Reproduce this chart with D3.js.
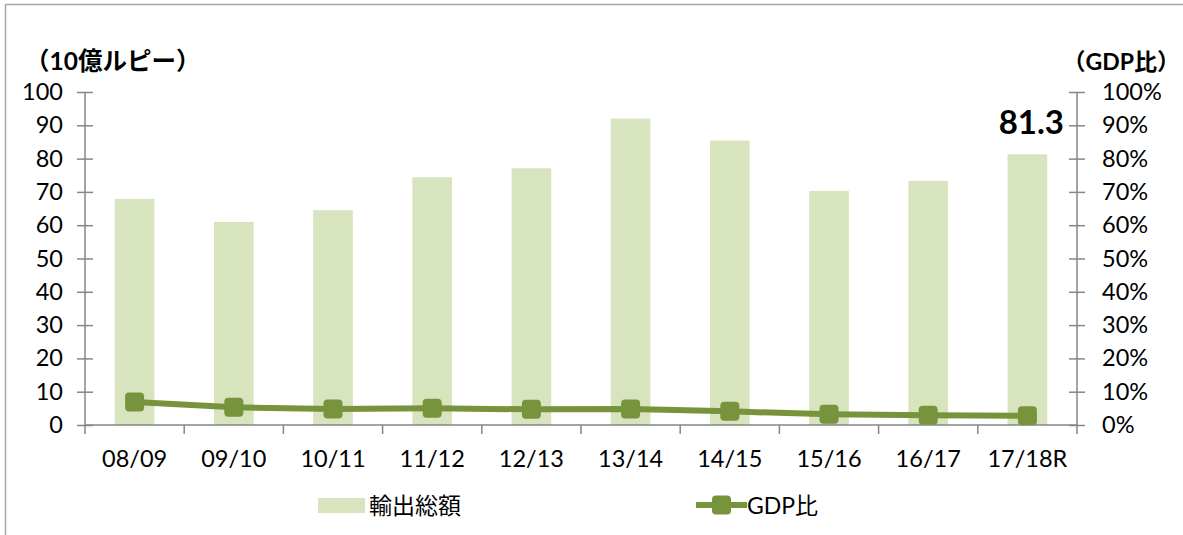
<!DOCTYPE html>
<html>
<head>
<meta charset="utf-8">
<script src="https://cdn.jsdelivr.net/npm/d3@7"></script>
<style>
  body { margin: 0; background: #fff; }
  text { font-family: Lato, "Noto Sans CJK JP", sans-serif; fill: #000; }
</style>
</head>
<body>
<div id="chart"></div>
<script>
const years = ["08/09", "09/10", "10/11", "11/12", "12/13", "13/14", "14/15", "15/16", "16/17", "17/18R"];
const exports = [67.9, 61.0, 64.5, 74.4, 77.1, 92.0, 85.4, 70.3, 73.3, 81.3];
const gdpShare = [6.9, 5.3, 4.8, 5.0, 4.7, 4.8, 4.1, 3.2, 2.9, 2.8];
const leftTicks = [0, 10, 20, 30, 40, 50, 60, 70, 80, 90, 100];
const rightTicks = [0, 10, 20, 30, 40, 50, 60, 70, 80, 90, 100];

const width = 1183, height = 535;
const margin = { top: 92, right: 106, bottom: 110, left: 85 };
const barColor = "#d7e4bd", lineColor = "#77933c", axisColor = "#868686";

const svg = d3.select("#chart")
  .append("svg")
  .attr("width", width)
  .attr("height", height);

// outer frame
svg.append("rect")
  .attr("x", 5.5).attr("y", 4.5)
  .attr("width", width + 20).attr("height", height + 20)
  .attr("fill", "none")
  .attr("stroke", "#a6a6a6")
  .attr("stroke-width", 1.5);

const x = d3.scaleBand()
  .domain(years)
  .range([margin.left, width - margin.right])
  .paddingInner(0.6)
  .paddingOuter(0.3);

const xb = d3.scaleLinear()
  .domain([0, years.length])
  .range([margin.left, width - margin.right]);

const y = d3.scaleLinear()
  .domain([0, 100])
  .range([height - margin.bottom, margin.top]);

const y2 = d3.scaleLinear()
  .domain([0, 100])
  .range([height - margin.bottom, margin.top]);

// bars
svg.append("g")
  .selectAll("rect")
  .data(years)
  .join("rect")
  .attr("x", d => x(d))
  .attr("y", (d, i) => y(exports[i]))
  .attr("width", x.bandwidth())
  .attr("height", (d, i) => y(0) - y(exports[i]))
  .attr("fill", barColor);

// left axis
const gl = svg.append("g")
  .attr("transform", `translate(${margin.left},0)`)
  .call(d3.axisLeft(y).tickValues(leftTicks).tickSize(8).tickPadding(14));
gl.selectAll(".tick line").attr("x2", 8).attr("x1", -8);

// right axis
const gr = svg.append("g")
  .attr("transform", `translate(${width - margin.right},0)`)
  .call(d3.axisRight(y2).tickValues(rightTicks).tickFormat(d => d + "%").tickSize(8).tickPadding(17));
gr.selectAll(".tick line").attr("x1", -8).attr("x2", 8);

// bottom axis
const gb = svg.append("g")
  .attr("transform", `translate(0,${height - margin.bottom})`)
  .call(d3.axisBottom(x).tickSize(0).tickPadding(25));
gb.append("g")
  .selectAll("line")
  .data(d3.range(years.length + 1))
  .join("line")
  .attr("x1", d => xb(d)).attr("x2", d => xb(d))
  .attr("y1", 0).attr("y2", 9)
  .attr("stroke", axisColor)
  .attr("stroke-width", 1.5);

[gl, gr, gb].forEach(g => {
  g.select(".domain").attr("stroke", axisColor).attr("stroke-width", 1.5);
  g.selectAll(".tick line").attr("stroke", axisColor).attr("stroke-width", 1.5);
  g.selectAll("text").attr("font-size", 23.5).attr("fill", "#000")
    .style("font-family", "Lato, 'Noto Sans CJK JP', sans-serif");
});
gl.select(".domain").attr("d", `M0,${y(0)}V${y(100)}`);
gr.select(".domain").attr("d", `M0,${y2(0)}V${y2(100)}`);
gb.select(".domain").attr("d", `M${margin.left},0H${width - margin.right}`);

// line
const line = d3.line()
  .x((d, i) => x(years[i]) + x.bandwidth() / 2)
  .y(d => y2(d));

svg.append("path")
  .datum(gdpShare)
  .attr("fill", "none")
  .attr("stroke", lineColor)
  .attr("stroke-width", 6)
  .attr("d", line);

svg.append("g")
  .selectAll("rect")
  .data(gdpShare)
  .join("rect")
  .attr("x", (d, i) => x(years[i]) + x.bandwidth() / 2 - 9.5)
  .attr("y", d => y2(d) - 9.5)
  .attr("width", 19).attr("height", 19)
  .attr("rx", 4)
  .attr("fill", lineColor);

// axis titles
svg.append("text")
  .attr("x", 25).attr("y", 70)
  .attr("font-size", 24.5).attr("font-weight", "bold")
  .text("（10億ルピー）");

svg.append("text")
  .attr("x", 1180).attr("y", 70)
  .attr("text-anchor", "end")
  .attr("font-size", 23).attr("font-weight", "bold")
  .text("（GDP比）");

// value label on last bar
const last = years.length - 1;
svg.append("text")
  .attr("x", 1064).attr("y", 134)
  .attr("text-anchor", "end")
  .attr("font-size", 33).attr("font-weight", "bold")
  .text(exports[last]);

// legend
const lg = svg.append("g");
lg.append("rect")
  .attr("x", 318).attr("y", 498)
  .attr("width", 47).attr("height", 15)
  .attr("fill", barColor);
lg.append("text")
  .attr("x", 369).attr("y", 514)
  .attr("font-size", 23)
  .text("輸出総額");
lg.append("line")
  .attr("x1", 696).attr("x2", 747)
  .attr("y1", 505).attr("y2", 505)
  .attr("stroke", lineColor).attr("stroke-width", 6);
lg.append("rect")
  .attr("x", 712).attr("y", 495.5)
  .attr("width", 19).attr("height", 19).attr("rx", 4)
  .attr("fill", lineColor);
lg.append("text")
  .attr("x", 747).attr("y", 514)
  .attr("font-size", 23)
  .text("GDP比");
</script>
</body>
</html>
